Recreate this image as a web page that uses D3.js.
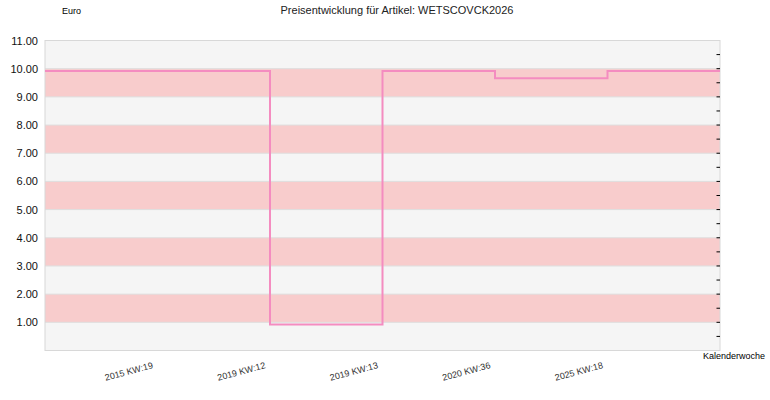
<!DOCTYPE html>
<html>
<head>
<meta charset="utf-8">
<script src="https://cdn.jsdelivr.net/npm/d3@7"></script>
<style>
  body { margin: 0; background: #fff; }
  text { font-family: "Liberation Sans", Arial, sans-serif; }
</style>
</head>
<body>
<div id="chart"></div>
<script>
// Kalenderwochen, an denen sich der Preis ändert
const wochen = ['2015 KW:19', '2019 KW:12', '2019 KW:13', '2020 KW:36', '2025 KW:18'];
// Preis je Abschnitt (erster Abschnitt liegt vor der ersten Woche)
const preise = [9.92, 9.92, 0.92, 9.92, 9.66, 9.92];
const yTicks = [1, 2, 3, 4, 5, 6, 7, 8, 9, 10, 11];

const largura = 770, altura = 400;
const m = { left: 45, right: 50, top: 40.5, bottom: 49.5 };

const svg = d3.select('#chart')
    .append('svg')
    .attr('width', largura)
    .attr('height', altura);

const x = d3.scaleLinear().domain([0, preise.length]).range([m.left, largura - m.right]);
const y = d3.scaleLinear().domain([0, 11]).range([altura - m.bottom, m.top]);

// Hintergrund
svg.append('rect')
    .attr('x', x(0)).attr('y', y(11))
    .attr('width', x(preise.length) - x(0)).attr('height', y(0) - y(11))
    .attr('fill', '#f5f5f5');

// Bänder
svg.append('g')
    .selectAll('rect')
    .data(d3.range(1, 11, 2))
    .enter()
    .append('rect')
    .attr('x', x(0))
    .attr('y', d => y(d + 1))
    .attr('width', x(preise.length) - x(0))
    .attr('height', d => y(d) - y(d + 1))
    .attr('fill', '#f8cccc');

// Gitterlinien
svg.append('g')
    .selectAll('line')
    .data(yTicks.slice(0, -1))
    .enter()
    .append('line')
    .attr('x1', x(0)).attr('x2', x(preise.length))
    .attr('y1', d => y(d)).attr('y2', d => y(d))
    .attr('stroke', '#dedede');

// Rahmen
svg.append('rect')
    .attr('x', x(0)).attr('y', y(11))
    .attr('width', x(preise.length) - x(0)).attr('height', y(0) - y(11))
    .attr('fill', 'none')
    .attr('stroke', '#d8d8d8');

// rechte Ticks
svg.append('g')
    .selectAll('line')
    .data(d3.range(1, 22).map(d => d / 2))
    .enter()
    .append('line')
    .attr('x1', x(preise.length) - 3.5).attr('x2', x(preise.length))
    .attr('y1', d => y(d)).attr('y2', d => y(d))
    .attr('stroke', '#000');

// Y-Beschriftung
svg.append('g')
    .selectAll('text')
    .data(yTicks)
    .enter()
    .append('text')
    .attr('x', 38)
    .attr('y', d => y(d) + 4)
    .attr('text-anchor', 'end')
    .attr('font-size', 11)
    .attr('fill', '#111')
    .text(d => d.toFixed(2));

// X-Beschriftung
svg.append('g')
    .selectAll('text')
    .data(wochen)
    .enter()
    .append('text')
    .attr('transform', (d, i) => `translate(${x(i + 1) - 4},${368}) rotate(-15)`)
    .attr('text-anchor', 'end')
    .attr('font-size', 9)
    .attr('fill', '#333')
    .text(d => d);

// Preislinie
const punkte = preise.map((p, i) => [i, p]).concat([[preise.length, preise[preise.length - 1]]]);
const linie = d3.line()
    .x(d => x(d[0]))
    .y(d => y(d[1]))
    .curve(d3.curveStepAfter);
svg.append('path')
    .attr('d', linie(punkte))
    .attr('fill', 'none')
    .attr('stroke', '#f48cc0')
    .attr('stroke-width', 2);

// Titel
svg.append('text')
    .attr('x', 397).attr('y', 14)
    .attr('text-anchor', 'middle')
    .attr('font-size', 11)
    .attr('fill', '#222')
    .text('Preisentwicklung für Artikel: WETSCOVCK2026');

svg.append('text')
    .attr('x', 62).attr('y', 14)
    .attr('font-size', 9)
    .attr('fill', '#000')
    .text('Euro');

svg.append('text')
    .attr('x', 765).attr('y', 359)
    .attr('text-anchor', 'end')
    .attr('font-size', 9)
    .attr('fill', '#000')
    .text('Kalenderwoche');
</script>
</body>
</html>
